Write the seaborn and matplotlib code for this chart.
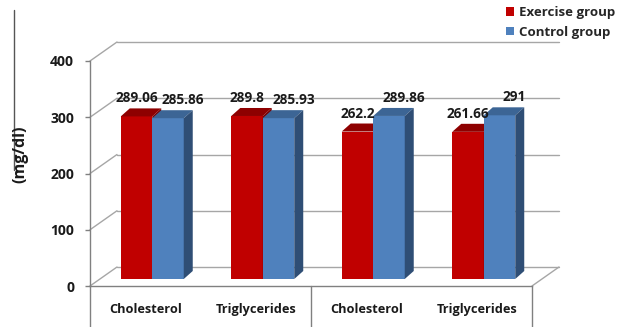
import numpy as np
import pandas as pd
import matplotlib
matplotlib.use("Agg")
import matplotlib.pyplot as plt
import seaborn as sns
from matplotlib.patches import Polygon
from matplotlib.lines import Line2D
from matplotlib.transforms import ScaledTranslation

# ---- data ----
categories = ["Cholesterol", "Triglycerides", "Cholesterol", "Triglycerides"]
panels = ["1", "1", "2", "2"]
exercise = [289.06, 289.8, 262.2, 261.66]
control = [285.86, 285.93, 289.86, 291]
series = ["Exercise group", "Control group"]
yticks = [0, 100, 200, 300, 400]

keys = [f"{p}-{c}" for p, c in zip(panels, categories)]
df = pd.DataFrame({
    "key": keys * 2,
    "value": exercise + control,
    "group": [series[0]] * 4 + [series[1]] * 4,
})

front_cols = {series[0]: "#C00000", series[1]: "#4F81BD"}
top_cols = {series[0]: "#8E0000", series[1]: "#3C6595"}
side_cols = {series[0]: "#7A0000", series[1]: "#2F4E75"}

sns.set_theme(style="white")
plt.rcParams["font.family"] = ["Open Sans", "DejaVu Sans"]

W, H, DPI = 629, 327, 100
fig = plt.figure(figsize=(W / DPI, H / DPI), dpi=DPI)
L, R, B, T = 90, 532, 286, 61  # front plane pixel box
ax = fig.add_axes([L / W, (H - B) / H, (R - L) / W, (B - T) / H])

sns.barplot(data=df, x="key", y="value", hue="group", order=keys,
            hue_order=series, palette=front_cols, width=0.57, gap=0,
            linewidth=0, edgecolor="none", ax=ax, legend=True, saturation=1)

ax.set_xlim(-0.5, 3.5)
ax.set_ylim(0, 400)
pxx = (R - L) / 4.0      # pixels per x unit
pxy = (B - T) / 400.0    # pixels per y unit

def dx(p):
    return p / pxx

def dy(p):
    return p / pxy

# back wall / floor geometry
WX, WY = 27, 19
grid_c = "#A6A6A6"
for v in yticks:
    ax.add_line(Line2D([-0.5 + dx(WX), 3.5 + dx(WX)], [v + dy(WY)] * 2,
                       color=grid_c, lw=1.0, clip_on=False, zorder=0.5))
    ax.add_line(Line2D([-0.5, -0.5 + dx(WX)], [v, v + dy(WY)],
                       color=grid_c, lw=1.0, clip_on=False, zorder=0.5))
ax.add_line(Line2D([3.5, 3.5 + dx(WX)], [0, dy(WY)], color=grid_c, lw=1.0,
                   clip_on=False, zorder=0.5))
# category box below floor
for xv in [-0.5, 1.5, 3.5]:
    ax.add_line(Line2D([xv, xv], [0, -dy(60)], color="#808080", lw=1.0,
                       clip_on=False, zorder=0.5))

# pseudo-3D bars
BX, BY = 7, 7      # bar front offset from front plane (px)
DX, DY = 9, 8      # bar depth (px)
shift = ScaledTranslation(BX / DPI, BY / DPI, fig.dpi_scale_trans)
for si, (cont, s) in enumerate(zip(ax.containers, series)):
    base_z = 2 + si
    for bar in cont:
        bar.set_transform(ax.transData + shift)
        bar.set_zorder(base_z)
        bar.set_clip_on(False)
        x0 = bar.get_x()
        x1 = x0 + bar.get_width()
        h = bar.get_height()
        top = Polygon([(x0, h), (x1, h), (x1 + dx(DX), h + dy(DY)),
                       (x0 + dx(DX), h + dy(DY))], closed=True,
                      facecolor=top_cols[s], edgecolor="none",
                      transform=ax.transData + shift, zorder=base_z + 0.1,
                      clip_on=False)
        side = Polygon([(x1, 0), (x1 + dx(DX), dy(DY)),
                        (x1 + dx(DX), h + dy(DY)), (x1, h)], closed=True,
                       facecolor=side_cols[s], edgecolor="none",
                       transform=ax.transData + shift, zorder=base_z + 0.1,
                       clip_on=False)
        ax.add_patch(top)
        ax.add_patch(side)
        lab = f"{h:g}"
        xoff = BX + (0 if si == 0 else 15)
        ax.annotate(lab, (x0 + bar.get_width() / 2, h),
                    xytext=(xoff * 72 / DPI, (BY + 18) * 72 / DPI),
                    textcoords="offset points", ha="center", va="center",
                    fontsize=9.8, fontweight="bold", color="#1a1a1a",
                    annotation_clip=False, zorder=5)

# axes styling
for sp in ["top", "right"]:
    ax.spines[sp].set_visible(False)
ax.spines["left"].set_color("#808080")
ax.spines["bottom"].set_color("#808080")
ax.spines["left"].set_linewidth(1.0)
ax.spines["bottom"].set_linewidth(1.0)
ax.set_yticks(yticks)
ax.set_yticklabels([str(v) for v in yticks], fontsize=10, fontweight="bold",
                   color="#1a1a1a")
ax.tick_params(axis="y", length=3.5, width=1.0, color="#808080", pad=8, left=True)
ax.set_xticks(range(4))
ax.set_xticklabels(categories, fontsize=9.2, fontweight="bold", color="#1a1a1a")
ax.tick_params(axis="x", length=0, pad=12)
ax.set_xlabel("")
ax.set_ylabel("")
ax.set_facecolor("none")

# y axis title and its line
fig.text(20 / W, 1 - 154 / H, "(mg/dl)", rotation=90, ha="center", va="center",
         fontsize=11.5, fontweight="bold", color="#1a1a1a")
fig.add_artist(Line2D([13.7 / W, 13.7 / W], [1 - 10 / H, 1 - 170 / H],
                      color="#555555", lw=1.0))

# legend
handles, labels = ax.get_legend_handles_labels()
ax.legend(handles, labels, loc="upper left",
          bbox_to_anchor=(506 / W, 1 - 6 / H), bbox_transform=fig.transFigure,
          frameon=False, handlelength=0.6, handleheight=0.6, handletextpad=0.4,
          labelspacing=0.5, prop={"weight": "bold", "size": 9.5},
          borderaxespad=0, borderpad=0)

fig.savefig("out.png", dpi=DPI, facecolor="white")
